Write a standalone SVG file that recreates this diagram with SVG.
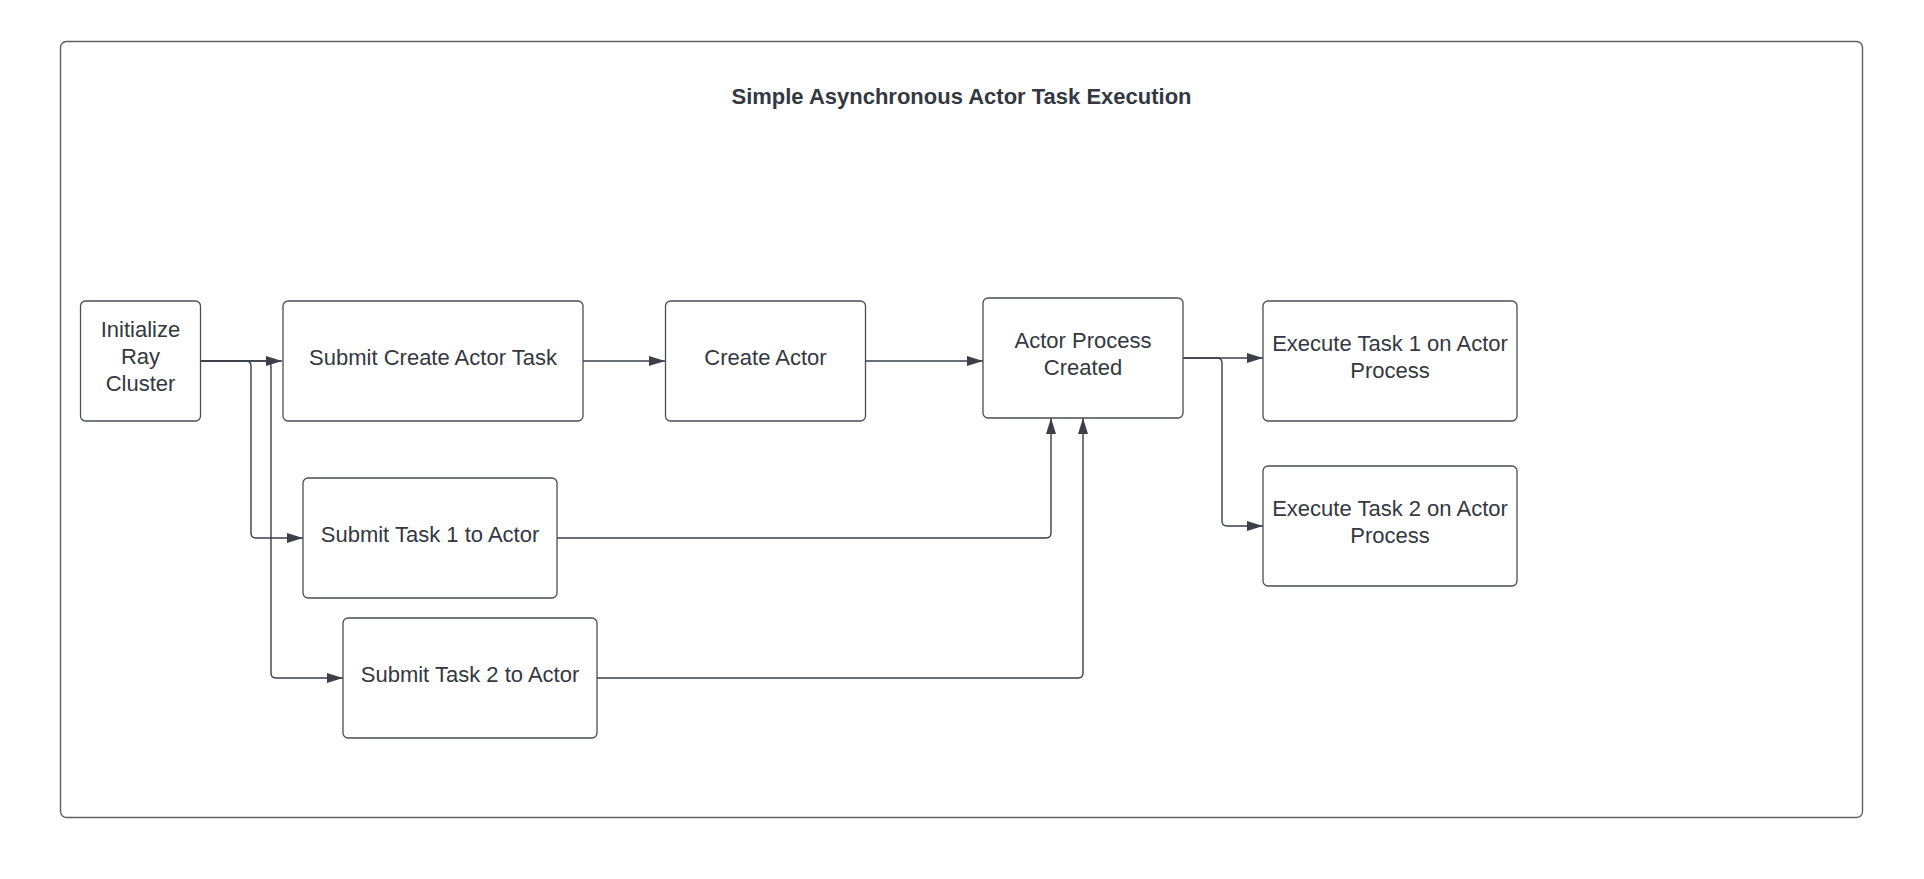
<svg xmlns="http://www.w3.org/2000/svg" width="1924" height="879" viewBox="0 0 1924 879">
<style>
.bg{fill:#ffffff}
.frame{fill:#ffffff;stroke:#5f6064;stroke-width:1.4}
.box{fill:#ffffff;stroke:#4a4e56;stroke-width:1.3}
.lbl{font-family:"Liberation Sans",Arial,sans-serif;font-size:22px;fill:#333842;text-anchor:middle}
.title{font-family:"Liberation Sans",Arial,sans-serif;font-size:22px;font-weight:bold;fill:#333842;text-anchor:middle}
.conn{fill:none;stroke:#3a3f4a;stroke-width:1.4;marker-end:url(#arrow)}
</style>
<defs>
<marker id="arrow" markerUnits="userSpaceOnUse" markerWidth="17" markerHeight="11" refX="16" refY="5" orient="auto">
<path d="M0,0 L16,5 L0,10 Z" fill="#3a3f4a"/>
</marker>
</defs>
<rect class="bg" x="0" y="0" width="1924" height="879"/>
<g id="frame">
<rect class="frame" x="60.5" y="41.5" width="1802" height="776" rx="6"/>
<text class="title" x="961.5" y="104">Simple Asynchronous Actor Task Execution</text>
</g>
<g id="connectors">
<path class="conn" d="M200,361 H282"/>
<path class="conn" d="M200,361 H246 Q251,361 251,366 V533 Q251,538 256,538 H303"/>
<path class="conn" d="M200,361 H266 Q271,361 271,366 V673 Q271,678 276,678 H343"/>
<path class="conn" d="M583,361 H665"/>
<path class="conn" d="M865,361 H983"/>
<path class="conn" d="M1183,358 H1263"/>
<path class="conn" d="M1183,358 H1217 Q1222,358 1222,363 V521 Q1222,526 1227,526 H1263"/>
<path class="conn" d="M557,538 H1046 Q1051,538 1051,533 V418"/>
<path class="conn" d="M597,678 H1078 Q1083,678 1083,673 V418"/>
</g>
<g id="init">
<rect class="box" x="80.5" y="301" width="120" height="120" rx="5"/>
<text class="lbl" x="140.5" y="337">Initialize</text>
<text class="lbl" x="140.5" y="364">Ray</text>
<text class="lbl" x="140.5" y="391">Cluster</text>
</g>
<g id="submit-create">
<rect class="box" x="283" y="301" width="300" height="120" rx="5"/>
<text class="lbl" x="433" y="365">Submit Create Actor Task</text>
</g>
<g id="create-actor">
<rect class="box" x="665.5" y="301" width="200" height="120" rx="5"/>
<text class="lbl" x="765.5" y="365">Create Actor</text>
</g>
<g id="actor-process">
<rect class="box" x="983" y="298" width="200" height="120" rx="5"/>
<text class="lbl" x="1083" y="348">Actor Process</text>
<text class="lbl" x="1083" y="375">Created</text>
</g>
<g id="exec1">
<rect class="box" x="1263" y="301" width="254" height="120" rx="5"/>
<text class="lbl" x="1390" y="351">Execute Task 1 on Actor</text>
<text class="lbl" x="1390" y="378">Process</text>
</g>
<g id="exec2">
<rect class="box" x="1263" y="466" width="254" height="120" rx="5"/>
<text class="lbl" x="1390" y="516">Execute Task 2 on Actor</text>
<text class="lbl" x="1390" y="543">Process</text>
</g>
<g id="task1">
<rect class="box" x="303" y="478" width="254" height="120" rx="5"/>
<text class="lbl" x="430" y="542">Submit Task 1 to Actor</text>
</g>
<g id="task2">
<rect class="box" x="343" y="618" width="254" height="120" rx="5"/>
<text class="lbl" x="470" y="682">Submit Task 2 to Actor</text>
</g>
</svg>
